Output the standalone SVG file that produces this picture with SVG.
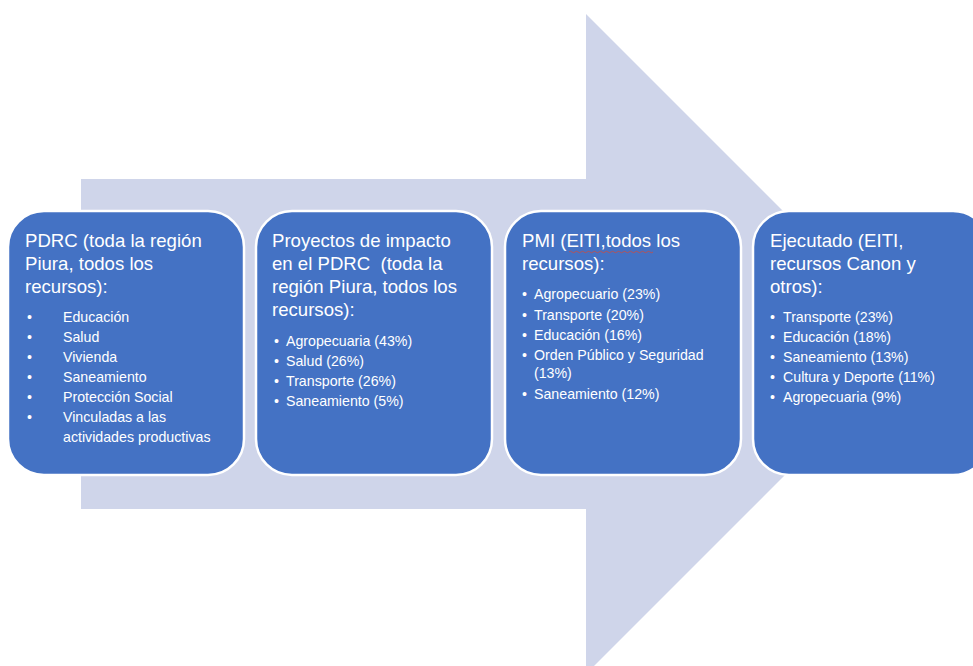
<svg xmlns="http://www.w3.org/2000/svg" width="973" height="666" viewBox="0 0 973 666">
<style>
.box{fill:#4472C4;stroke:#FFFFFF;stroke-width:2.5}
.t{font-family:"Liberation Sans",Arial,sans-serif;fill:#FFFFFF}
.h{font-size:18.6px}
.b{font-size:14.2px}
</style>
<rect width="973" height="666" fill="#FFFFFF"/>
<g id="connectors">
<polygon id="arrow" points="81,179 586,179 586,14 916,344 586,674 586,509 81,509" fill="#CFD5EA"/>
</g>
<g id="node1">
<rect class="box" x="8" y="211" width="236" height="264" rx="36"/>
<text class="t h" x="25" y="247">PDRC (toda la región</text>
<text class="t h" x="25" y="270">Piura, todos los</text>
<text class="t h" x="25" y="293">recursos):</text>
<g class="t b">
<text x="27" y="322">•</text><text x="63" y="322">Educación</text>
<text x="27" y="342">•</text><text x="63" y="342">Salud</text>
<text x="27" y="362">•</text><text x="63" y="362">Vivienda</text>
<text x="27" y="382">•</text><text x="63" y="382">Saneamiento</text>
<text x="27" y="402">•</text><text x="63" y="402">Protección Social</text>
<text x="27" y="422">•</text><text x="63" y="422">Vinculadas a las</text>
<text x="63" y="442">actividades productivas</text>
</g>
</g>
<g id="node2">
<rect class="box" x="256" y="211" width="236" height="264" rx="36"/>
<text class="t h" x="272" y="247">Proyectos de impacto</text>
<text class="t h" x="272" y="270" xml:space="preserve">en el PDRC  (toda la</text>
<text class="t h" x="272" y="293">región Piura, todos los</text>
<text class="t h" x="272" y="316">recursos):</text>
<g class="t b">
<text x="274" y="346">•</text><text x="286" y="346">Agropecuaria (43%)</text>
<text x="274" y="366">•</text><text x="286" y="366">Salud (26%)</text>
<text x="274" y="386">•</text><text x="286" y="386">Transporte (26%)</text>
<text x="274" y="406">•</text><text x="286" y="406">Saneamiento (5%)</text>
</g>
</g>
<g id="node3">
<rect class="box" x="505" y="211" width="236" height="264" rx="36"/>
<text class="t h" x="522" y="247">PMI (EITI,todos los</text>
<text class="t h" x="522" y="270">recursos):</text>
<path d="M569,252 q1.5,-1.5 3,0 t3,0 t3,0 t3,0 t3,0 t3,0 t3,0 t3,0 t3,0 t3,0 t3,0 t3,0 t3,0 t3,0 t3,0 t3,0 t3,0 t3,0 t3,0 t3,0 t3,0 t3,0 t3,0 t3,0 t3,0 t3,0 t3,0 t3,0" fill="none" stroke="#C0504D" stroke-width="0.9"/>
<g class="t b">
<text x="522" y="299">•</text><text x="534" y="299">Agropecuario (23%)</text>
<text x="522" y="320">•</text><text x="534" y="320">Transporte (20%)</text>
<text x="522" y="340">•</text><text x="534" y="340">Educación (16%)</text>
<text x="522" y="360">•</text><text x="534" y="360">Orden Público y Seguridad</text>
<text x="534" y="378">(13%)</text>
<text x="522" y="399">•</text><text x="534" y="399">Saneamiento (12%)</text>
</g>
</g>
<g id="node4">
<rect class="box" x="753" y="211" width="236" height="264" rx="36"/>
<text class="t h" x="770" y="247">Ejecutado (EITI,</text>
<text class="t h" x="770" y="270">recursos Canon y</text>
<text class="t h" x="770" y="293">otros):</text>
<g class="t b">
<text x="770" y="322">•</text><text x="783" y="322">Transporte (23%)</text>
<text x="770" y="342">•</text><text x="783" y="342">Educación (18%)</text>
<text x="770" y="362">•</text><text x="783" y="362">Saneamiento (13%)</text>
<text x="770" y="382">•</text><text x="783" y="382">Cultura y Deporte (11%)</text>
<text x="770" y="402">•</text><text x="783" y="402">Agropecuaria (9%)</text>
</g>
</g>
</svg>
